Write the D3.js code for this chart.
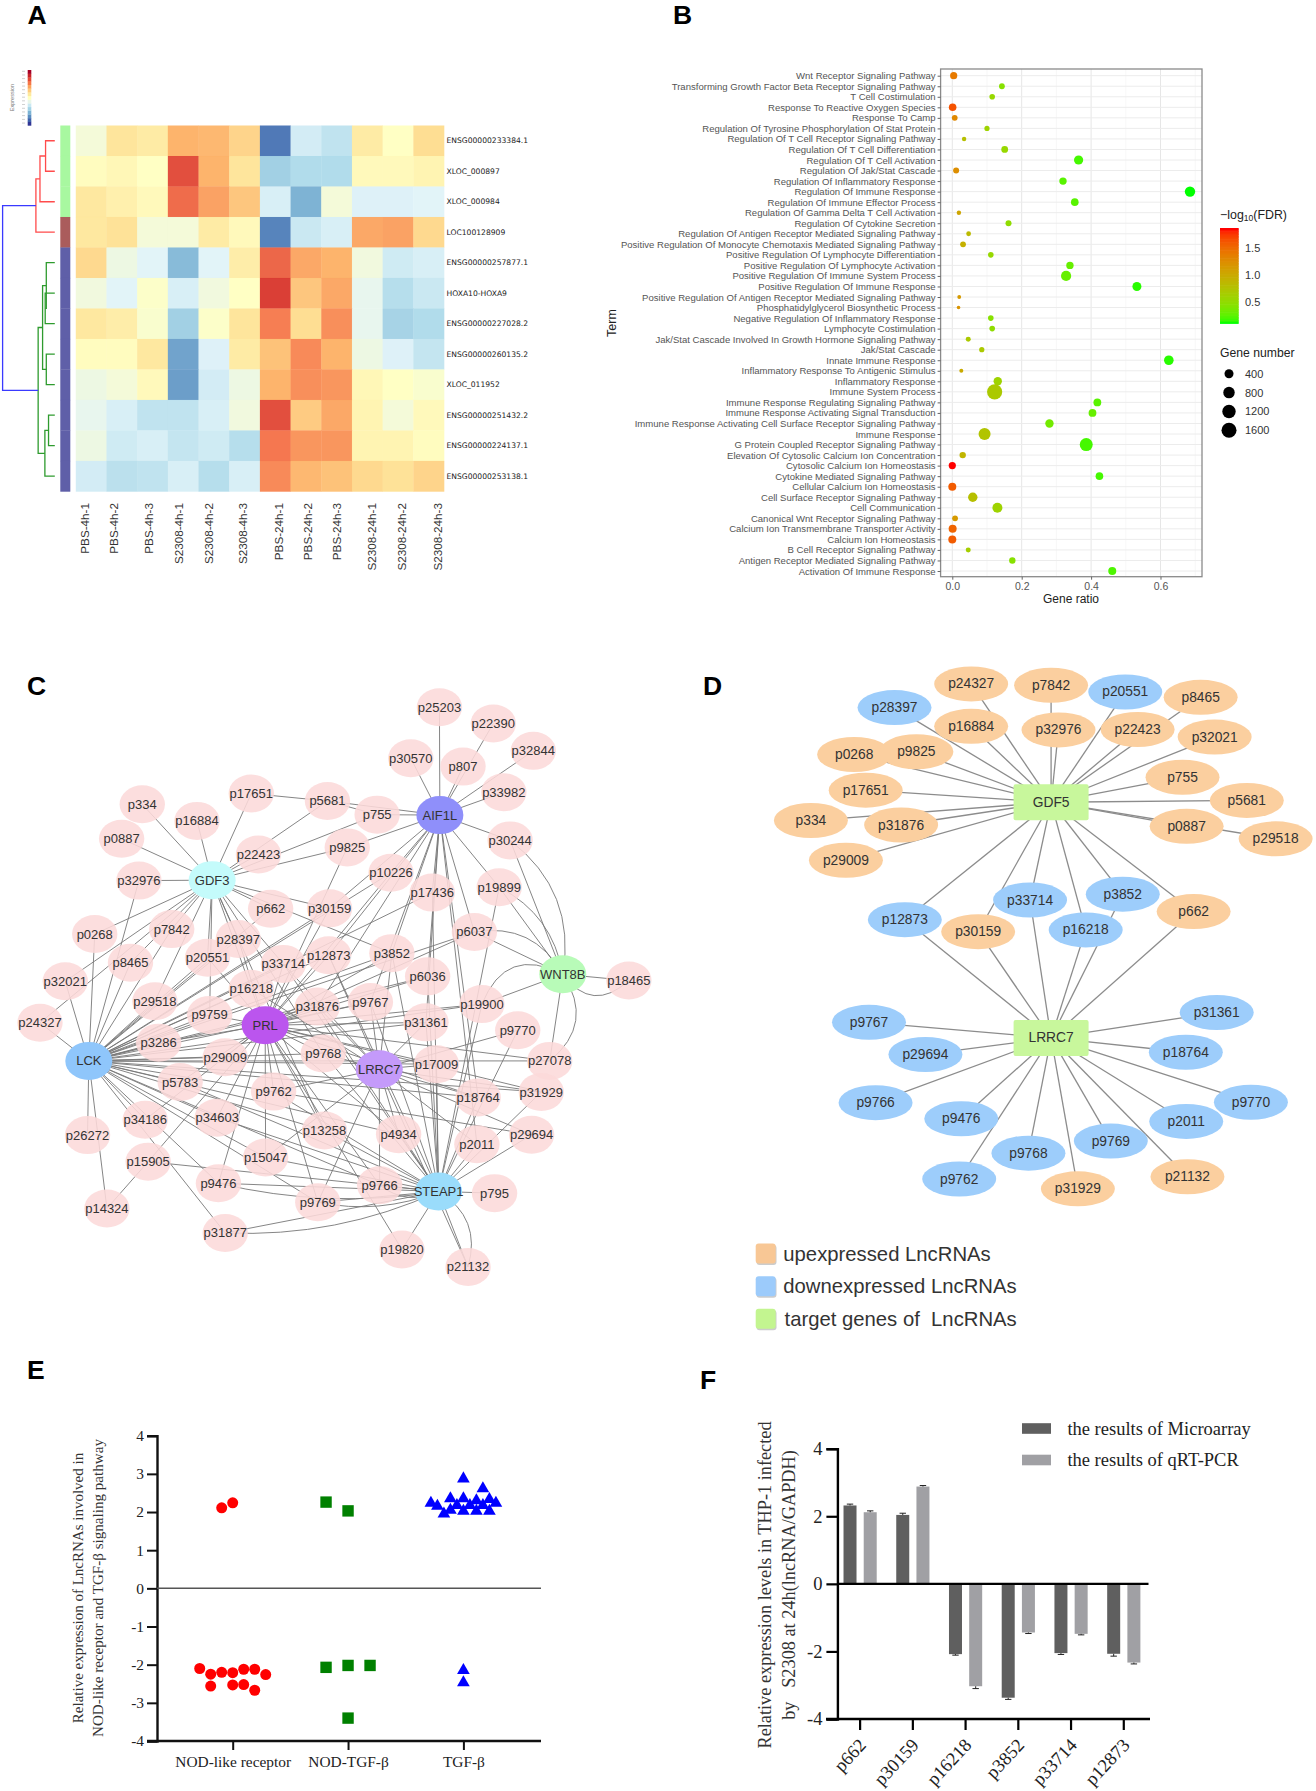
<!DOCTYPE html>
<html><head><meta charset="utf-8">
<script src="https://cdn.jsdelivr.net/npm/d3@7/dist/d3.min.js"></script>
<style>html,body{margin:0;padding:0;background:#fff}svg{display:block}text{white-space:pre}</style>
</head><body><svg id="c" width="1316" height="1791"></svg>
<script>
// ---------- Panel A data ----------
const heatRows=["ENSG00000233384.1","XLOC_000897","XLOC_000984","LOC100128909","ENSG00000257877.1","HOXA10-HOXA9","ENSG00000227028.2","ENSG00000260135.2","XLOC_011952","ENSG00000251432.2","ENSG00000224137.1","ENSG00000253138.1"];
const heatCols=["PBS-4h-1","PBS-4h-2","PBS-4h-3","S2308-4h-1","S2308-4h-2","S2308-4h-3","PBS-24h-1","PBS-24h-2","PBS-24h-3","S2308-24h-1","S2308-24h-2","S2308-24h-3"];
const heatValues=[
[.46,.59,.57,.70,.69,.63,.09,.37,.33,.57,.50,.61],
[.51,.53,.50,.87,.70,.59,.27,.30,.30,.52,.52,.54],
[.58,.55,.52,.82,.73,.66,.38,.20,.46,.39,.39,.40],
[.58,.60,.46,.46,.57,.52,.11,.35,.38,.72,.73,.62],
[.62,.44,.40,.22,.40,.56,.83,.72,.70,.45,.36,.38],
[.45,.40,.49,.38,.45,.50,.90,.66,.72,.42,.31,.35],
[.58,.56,.48,.27,.49,.59,.79,.61,.76,.42,.28,.30],
[.51,.51,.58,.17,.39,.57,.67,.77,.70,.44,.39,.34],
[.44,.46,.52,.16,.37,.44,.70,.76,.75,.53,.50,.48],
[.42,.38,.33,.33,.38,.45,.87,.65,.72,.54,.46,.52],
[.44,.36,.38,.34,.36,.31,.80,.75,.75,.54,.54,.51],
[.37,.32,.33,.38,.31,.38,.77,.69,.67,.62,.60,.63]];
const heatGroups=[0,0,0,1,2,2,2,2,2,2,2,2];
const dendro={h:1,g:"root",c:[
 {h:.362,g:"a",c:[{h:.284,g:"a",c:[{h:.177,g:"a",c:[0,1]},2]},3]},
 {h:.319,g:"b",c:[
  {h:.234,g:"b",c:[{h:.163,g:"b",c:[4,{h:.184,g:"b",c:[5,6]}]},{h:.163,g:"b",c:[7,8]}]},
  {h:.19,g:"b",c:[{h:.12,g:"b",c:[9,10]},11]}]}]};
// ---------- Panel B data ----------
const goTerms=["Wnt Receptor Signaling Pathway","Transforming Growth Factor Beta Receptor Signaling Pathway","T Cell Costimulation","Response To Reactive Oxygen Species","Response To Camp","Regulation Of Tyrosine Phosphorylation Of Stat Protein","Regulation Of T Cell Receptor Signaling Pathway","Regulation Of T Cell Differentiation","Regulation Of T Cell Activation","Regulation Of Jak/Stat Cascade","Regulation Of Inflammatory Response","Regulation Of Immune Response","Regulation Of Immune Effector Process","Regulation Of Gamma Delta T Cell Activation","Regulation Of Cytokine Secretion","Regulation Of Antigen Receptor Mediated Signaling Pathway","Positive Regulation Of Monocyte Chemotaxis Mediated Signaling Pathway","Positive Regulation Of Lymphocyte Differentiation","Positive Regulation Of Lymphocyte Activation","Positive Regulation Of Immune System Process","Positive Regulation Of Immune Response","Positive Regulation Of Antigen Receptor Mediated Signaling Pathway","Phosphatidylglycerol Biosynthetic Process","Negative Regulation Of Inflammatory Response","Lymphocyte Costimulation","Jak/Stat Cascade Involved In Growth Hormone Signaling Pathway","Jak/Stat Cascade","Innate Immune Response","Inflammatory Response To Antigenic Stimulus","Inflammatory Response","Immune System Process","Immune Response Regulating Signaling Pathway","Immune Response Activating Signal Transduction","Immune Response Activating Cell Surface Receptor Signaling Pathway","Immune Response","G Protein Coupled Receptor Signaling Pathway","Elevation Of Cytosolic Calcium Ion Concentration","Cytosolic Calcium Ion Homeostasis","Cytokine Mediated Signaling Pathway","Cellular Calcium Ion Homeostasis","Cell Surface Receptor Signaling Pathway","Cell Communication","Canonical Wnt Receptor Signaling Pathway","Calcium Ion Transmembrane Transporter Activity","Calcium Ion Homeostasis","B Cell Receptor Signaling Pathway","Antigen Receptor Mediated Signaling Pathway","Activation Of Immune Response"];
const goRatio=[.004,.143,.115,.001,.007,.10,.034,.151,.364,.011,.319,.685,.353,.019,.162,.047,.031,.111,.339,.328,.532,.020,.018,.111,.115,.046,.085,.624,.026,.131,.122,.418,.404,.28,.093,.386,.03,0,.424,0,.059,.13,.008,.001,0,.046,.173,.461];
const goGenes=[196,87,75,235,87,54,22,160,427,100,215,608,235,22,100,36,87,75,215,576,400,7,4,75,75,44,54,484,11,324,1650,256,256,324,900,1111,128,196,235,278,455,544,87,278,278,44,128,278];
const goFdr=[1.4,.45,.55,1.65,1.3,.6,.8,.55,.2,1.25,.25,.12,.25,1.05,.5,.85,.95,.55,.3,.3,.15,1.15,1.2,.45,.5,.7,.7,.15,1.0,.6,.7,.25,.3,.35,.75,.2,.9,1.86,.2,1.6,.8,.6,1.15,1.55,1.6,.65,.45,.22];
const goRatioTicks=[0,.2,.4,.6], goSizeTicks=[400,800,1200,1600], goFdrTicks=[.5,1,1.5];
// ---------- Panel C data (network layout units) ----------
const cHubs=[["AIF1L",1045,350,"#8f8ffa"],["GDF3",504,507,"#c4fbfb"],["LCK",211,943,"#8fc6fb"],["PRL",630,857,"#bb55ee"],["LRRC7",901,963,"#c49afa"],["STEAP1",1042,1258,"#9adcfb"],["WNT8B",1337,734,"#b8fbb8"]];
const cLeaves=[["p25203",1044,90],["p22390",1172,129],["p32844",1267,195],["p30570",976,213],["p807",1100,233],["p33982",1197,295],["p17651",597,298],["p5681",778,316],["p755",896,349],["p334",338,324],["p16884",468,364],["p0887",289,407],["p22423",614,445],["p9825",825,428],["p30244",1212,411],["p32976",330,508],["p10226",929,489],["p19899",1186,524],["p17436",1027,537],["p662",643,576],["p30159",783,575],["p0268",225,637],["p7842",408,625],["p28397",566,649],["p6037",1127,632],["p20551",493,694],["p33714",673,709],["p12873",781,688],["p3852",931,683],["p8465",310,706],["p32021",155,751],["p6036",1016,739],["p16218",597,769],["p18465",1494,749],["p29518",368,799],["p19900",1145,806],["p31876",754,812],["p9767",880,801],["p9759",498,832],["p24327",95,851],["p31361",1012,850],["p9770",1230,869],["p3286",377,899],["p9768",768,925],["p29009",535,934],["p17009",1037,951],["p27078",1306,943],["p5783",428,994],["p9762",650,1017],["p18764",1136,1031],["p31929",1286,1018],["p34186",345,1085],["p34603",516,1080],["p13258",771,1111],["p4934",947,1120],["p29694",1263,1121],["p26272",208,1122],["p2011",1133,1144],["p15047",631,1176],["p15905",352,1186],["p9476",519,1238],["p9766",902,1243],["p795",1175,1262],["p9769",755,1284],["p14324",254,1299],["p31877",535,1358],["p19820",955,1398],["p21132",1112,1440]];
const cLinks={
 AIF1L:"p25203 p22390 p32844 p30570 p807 p33982 p5681 p755 p30244 p9825 p10226 p17436 p19899 p6037 p6036 p12873 p30159 p3852 p31876 p31361 p18764 p9767 p2011".split(" "),
 GDF3:"p334 p16884 p0887 p17651 p32976 p5681 p755 p22423 p9825 p662 p30159 p0268 p7842 p28397 p20551 p3852 p24327 p32021 p29518 p16218 p33714 p9759 p8465 p9768 p13258".split(" "),
 LCK:"p24327 p32021 p0268 p32976 p8465 p7842 p29518 p3286 p29009 p5783 p34186 p34603 p26272 p14324 p31877 p9476 p20551 p28397 p16218 p33714 p17436 p10226 p30159 p6037 p3852 p12873 p31876 p9767 p6036 p19900 p31361 p27078 p9768 p17009 p18764 p31929 p4934 p13258 p9766 p15047 p662 p9759 p9769 p29694".split(" "),
 PRL:"p9759 p3286 p29009 p5783 p34186 p34603 p9762 p15047 p9476 p15905 p20551 p28397 p16218 p33714 p12873 p30159 p10226 p9825 p31876 p9767 p6036 p19900 p31361 p3852 p6037 p9768 p17009 p27078 p13258 p4934 p9769 p9766 p19820 p18764 p31929".split(" "),
 LRRC7:"p31876 p9767 p31361 p17009 p9770 p9768 p29694 p18764 p2011 p31929 p4934 p9766 p9769 p9762 p3852 p12873 p16218 p33714 p15047 p21132".split(" "),
 STEAP1:"p795 p21132 p19820 p31877 p9769 p9766 p9476 p15905 p15047 p34603 p13258 p4934 p2011 p29694 p31929 p18764 p9770 p19900 p17009 p31361 p6036 p9767 p17436 p19899 p3852 p9768 p5783 p12873 p9762 p31876 p33714".split(" "),
 WNT8B:"p18465 p30244 p19899 p6037 p19900 p27078".split(" ")};
const cCurves=[["p30244","WNT8B",.3],["p19899","WNT8B",.25],["p6037","WNT8B",.35],["p19900","WNT8B",.55],["WNT8B","p18465",-.55],["p27078","WNT8B",-.45],["p31877","STEAP1",-.12],["p9476","STEAP1",-.1],["p9769","STEAP1",-.15],["p9766","STEAP1",-.3],["STEAP1","p21132",.38]];
const cExtra=[["p14324","p15905"],["p17651","p5681"],["p5681","p755"]];
// ---------- Panel D data (network layout units) ----------
const dTargets=[["GDF5",925,341],["LRRC7",925,869]];
const dUp=[["p24327",731,76],["p7842",925,79],["p8465",1288,106],["p16884",731,171],["p32976",943,179],["p22423",1135,178],["p32021",1322,195],["p0268",447,234],["p9825",598,228],["p755",1244,285],["p17651",475,314],["p5681",1400,337],["p334",342,382],["p31876",561,392],["p0887",1254,395],["p29518",1470,423],["p29009",427,471],["p30159",748,631],["p662",1271,586],["p21132",1256,1180],["p31929",990,1207]];
const dDown=[["p20551",1105,94],["p28397",545,129],["p12873",570,604],["p33714",874,560],["p3852",1099,547],["p16218",1009,627],["p31361",1327,812],["p9767",483,834],["p18764",1252,901],["p29694",620,906],["p9770",1410,1013],["p9766",499,1014],["p2011",1253,1056],["p9476",707,1050],["p9769",1070,1100],["p9768",870,1127],["p9762",702,1185]];
const dLinks={GDF5:"p24327 p7842 p20551 p8465 p28397 p16884 p32976 p22423 p32021 p0268 p9825 p755 p17651 p5681 p334 p31876 p0887 p29518 p29009 p12873 p30159 p33714 p16218 p3852 p662".split(" "),
 LRRC7:"p12873 p30159 p33714 p16218 p3852 p662 p31361 p9767 p18764 p29694 p9770 p9766 p2011 p9476 p9769 p9768 p9762 p21132 p31929".split(" ")};
const dLegend=["upexpressed LncRNAs","downexpressed LncRNAs","target genes of  LncRNAs"];
// ---------- Panel E data ----------
const eCats=["NOD-like receptor","NOD-TGF-β","TGF-β"];
const eTicks=[-4,-3,-2,-1,0,1,2,3,4];
const eRedSlots=[-1,0,-3,-2,-1,0,1,2,3,-2,0,1,2];
const eRedValues=[2.11,2.24,-2.1,-2.25,-2.2,-2.21,-2.12,-2.12,-2.26,-2.56,-2.53,-2.52,-2.67];
const eGreenSlots=[-2,0,-2,0,2,0];
const eGreenValues=[2.26,2.03,-2.07,-2.02,-2.02,-3.4];
const eBlueSlots=[0,3,-2,0,2,4,-5,5,-4,-1,1,3,-2,0,2,4,-3,0,0];
const eBlueValues=[2.92,2.66,2.4,2.4,2.35,2.38,2.28,2.28,2.2,2.22,2.22,2.22,2.1,2.07,2.07,2.07,2.0,-2.1,-2.42];
// ---------- Panel F data ----------
const fCats=["p662","p30159","p16218","p3852","p33714","p12873"];
const fSeries=["the results of Microarray","the results of qRT-PCR"];
const fMicro=[2.32,2.04,-2.08,-3.37,-2.05,-2.07];
const fPcr=[2.12,2.88,-3.03,-1.44,-1.48,-2.33];
const fMicroErr=[.04,.05,.03,.05,.04,.07];
const fPcrErr=[.04,.03,.07,.03,.03,.04];
const fTicks=[-4,-2,0,2,4];

// =============== drawing ===============
const svg=d3.select("#c");
const SANS="'Liberation Sans',Arial,sans-serif", SERIF="'Liberation Serif','Times New Roman',serif";
function panelLabel(t,x,y){svg.append("text").attr("x",x).attr("y",y).attr("font-family",SANS).attr("font-weight","bold").attr("font-size",26.5).attr("dominant-baseline","central").text(t);}
[["A",27.5,15],["B",673,15],["C",27,686],["D",703,686],["E",27,1370],["F",700,1380]].forEach(d=>panelLabel(...d));

// ---- Panel A
(function(){
 const g=svg.append("g");
 const x=d3.scaleBand().domain(heatCols).range([75.8,444]);
 const y=d3.scaleBand().domain(heatRows).range([125.5,491.4]);
 const color=d3.scaleLinear().domain([0,.1,.2,.3,.4,.5,.6,.7,.8,.9,1]).range(["#313695","#4575b4","#74add1","#abd9e9","#e0f3f8","#ffffbf","#fee090","#fdae61","#f46d43","#d73027","#a50026"]);
 heatValues.forEach((row,i)=>row.forEach((v,j)=>{
  g.append("rect").attr("x",x(heatCols[j])).attr("y",y(heatRows[i])).attr("width",x.bandwidth()+.3).attr("height",y.bandwidth()+.3).attr("fill",color(v)).attr("fill-opacity",.93);
 }));
 heatRows.forEach(r=>g.append("text").attr("x",446.5).attr("y",y(r)+y.bandwidth()/2).attr("dominant-baseline","central").attr("font-family","'DejaVu Sans'").attr("font-size",7.6).attr("fill","#222").text(r));
 const nudge=[-6.8,-8.3,-3.6,-4.6,-5.7,-1.7,3.2,1.8,0,4.3,3.2,8.8];
 heatCols.forEach((c,j)=>{
  const cx=x(c)+x.bandwidth()/2+nudge[j];
  g.append("text").attr("transform",`translate(${cx},503) rotate(-90)`).attr("text-anchor","end").attr("dominant-baseline","central").attr("font-family",SANS).attr("font-size",11.7).attr("fill","#333").text(c);
 });
 const groupColor=["#a8f8a0","#aa5c5c","#5f5fa8"];
 heatRows.forEach((r,i)=>g.append("rect").attr("x",60.3).attr("width",10).attr("y",y(r)).attr("height",y.bandwidth()+.3).attr("fill",groupColor[heatGroups[i]]));
 const depth=d3.scaleLinear().domain([0,1]).range([54.8,2.6]);
 const dColor={a:"#ff4b4b",b:"#2e9b2e",root:"#3a3aff"};
 function rowY(k){return y(heatRows[k])+y.bandwidth()/2;}
 function walk(n){
  if(typeof n==="number")return{x:depth(0),y:rowY(n)};
  const kids=n.c.map(walk), px=depth(n.h), py=d3.mean(kids,k=>k.y);
  const p=d3.path();
  p.moveTo(kids[0].x,kids[0].y);p.lineTo(px,kids[0].y);p.lineTo(px,kids[1].y);p.lineTo(kids[1].x,kids[1].y);
  g.append("path").attr("d",p.toString()).attr("fill","none").attr("stroke",dColor[n.g]).attr("stroke-width",1.3);
  return{x:px,y:py};
 }
 walk(dendro);
 const key=d3.range(0,1.0001,1/14);
 const ky=d3.scaleBand().domain(key).range([125.5,70]);
 key.forEach(k=>{g.append("rect").attr("x",27.7).attr("width",3.6).attr("y",ky(k)).attr("height",ky.bandwidth()+.2).attr("fill",color(k));
  g.append("rect").attr("x",22).attr("width",3).attr("y",ky(k)+.8).attr("height",.9).attr("fill","#ccc");});
 g.append("text").attr("transform","translate(12,97.6) rotate(-90)").attr("text-anchor","middle").attr("dominant-baseline","central").attr("font-family",SANS).attr("font-size",5.5).attr("fill","#777").text("Expression");
})();

// ---- Panel B
(function(){
 const g=svg.append("g");
 const L=940.6,R=1202,T=69,B=576.7;
 const x=d3.scaleLinear().domain([-.0337,.7196]).range([L,R]);
 const y=d3.scalePoint().domain(goTerms).range([75.7,571]);
 const r=d3.scaleSqrt().domain([0,1600]).range([1.5,7.5]);
 const col=d3.scaleLinear().domain([.122,1.857]).range(["#00ff00","#ff0000"]).interpolate(d3.interpolateLab);
 goRatioTicks.forEach(t=>g.append("line").attr("x1",x(t)).attr("x2",x(t)).attr("y1",T).attr("y2",B).attr("stroke","#e6e6e6"));
 [.1,.3,.5,.7].forEach(t=>g.append("line").attr("x1",x(t)).attr("x2",x(t)).attr("y1",T).attr("y2",B).attr("stroke","#f1f1f1").attr("stroke-width",.6));
 goTerms.forEach(t=>g.append("line").attr("x1",L).attr("x2",R).attr("y1",y(t)).attr("y2",y(t)).attr("stroke","#ececec"));
 goTerms.forEach((t,i)=>g.append("circle").attr("cx",x(goRatio[i])).attr("cy",y(t)).attr("r",r(goGenes[i])).attr("fill",col(goFdr[i])));
 g.append("rect").attr("x",L).attr("y",T).attr("width",R-L).attr("height",B-T).attr("fill","none").attr("stroke","#8a8a8a").attr("stroke-width",1.3);
 const ay=g.append("g").attr("transform",`translate(${L},0)`).call(d3.axisLeft(y).tickSize(3).tickPadding(2));
 ay.select(".domain").remove();ay.selectAll("line").attr("stroke","#666");
 ay.selectAll("text").attr("font-family",SANS).attr("font-size",9.55).attr("fill","#555");
 const ax=g.append("g").attr("transform",`translate(0,${B})`).call(d3.axisBottom(x).tickValues(goRatioTicks).tickFormat(d3.format(".1f")).tickSize(3).tickPadding(3));
 ax.select(".domain").remove();ax.selectAll("line").attr("stroke","#666");
 ax.selectAll("text").attr("font-family",SANS).attr("font-size",10.5).attr("fill","#555");
 g.append("text").attr("x",1071).attr("y",599).attr("text-anchor","middle").attr("dominant-baseline","central").attr("font-family",SANS).attr("font-size",12).attr("fill","#222").text("Gene ratio");
 g.append("text").attr("transform","translate(612,323) rotate(-90)").attr("text-anchor","middle").attr("dominant-baseline","central").attr("font-family",SANS).attr("font-size",12.5).attr("fill","#222").text("Term");
 const ly=d3.scaleLinear().domain([.122,1.857]).range([322.7,229]);
 d3.range(0,60).forEach(i=>{const v=.122+(1.857-.122)*i/59;
  g.append("rect").attr("x",1220).attr("width",18.7).attr("y",ly(v)-1).attr("height",2.2).attr("fill",col(v));});
 goFdrTicks.forEach(t=>g.append("text").attr("x",1245).attr("y",ly(t)).attr("dominant-baseline","central").attr("font-family",SANS).attr("font-size",11).attr("fill","#333").text(t.toFixed(1)));
 const tt=g.append("text").attr("x",1220).attr("y",215).attr("dominant-baseline","central").attr("font-family",SANS).attr("font-size",12.4).attr("fill","#222");
 tt.append("tspan").text("\u2212log");tt.append("tspan").attr("font-size",8.5).attr("dy",3).text("10");tt.append("tspan").attr("dy",-3).text("(FDR)");
 g.append("text").attr("x",1220).attr("y",353).attr("dominant-baseline","central").attr("font-family",SANS).attr("font-size",12.2).attr("fill","#222").text("Gene number");
 const ls=d3.scalePoint().domain(goSizeTicks).range([373.7,430.3]);
 goSizeTicks.forEach(t=>{g.append("circle").attr("cx",1229).attr("cy",ls(t)).attr("r",r(t)).attr("fill","#000");
  g.append("text").attr("x",1245).attr("y",ls(t)).attr("dominant-baseline","central").attr("font-family",SANS).attr("font-size",11).attr("fill","#333").text(t);});
})();

// ---- Panel C
(function(){
 const g=svg.append("g");
 const x=d3.scaleLinear().domain([0,1568]).range([0,660]);
 const y=d3.scaleLinear().domain([0,1568]).range([670,1320]);
 const pos={};
 cHubs.concat(cLeaves).forEach(d=>pos[d[0]]={x:x(d[1]),y:y(d[2])});
 const edges=[];
 Object.keys(cLinks).forEach(h=>cLinks[h].forEach(p=>edges.push([h,p,0])));
 cExtra.forEach(e=>edges.push([e[0],e[1],0]));
 cCurves.forEach(e=>edges.push(e));
 edges.forEach(([a,b,bend])=>{
  const A=pos[a],B=pos[b];const p=d3.path();p.moveTo(A.x,A.y);
  if(bend){const dx=B.x-A.x,dy=B.y-A.y;p.quadraticCurveTo((A.x+B.x)/2+dy*bend,(A.y+B.y)/2-dx*bend,B.x,B.y);}
  else p.lineTo(B.x,B.y);
  g.append("path").attr("d",p.toString()).attr("fill","none").attr("stroke","#777").attr("stroke-width",.9);
 });
 cLeaves.forEach(d=>{g.append("ellipse").attr("cx",pos[d[0]].x).attr("cy",pos[d[0]].y).attr("rx",22.7).attr("ry",19).attr("fill","#fcd9d9").attr("fill-opacity",.88);});
 cHubs.forEach(d=>{g.append("ellipse").attr("cx",pos[d[0]].x).attr("cy",pos[d[0]].y).attr("rx",23.5).attr("ry",19).attr("fill",d[3]);});
 cLeaves.concat(cHubs).forEach(d=>g.append("text").attr("x",pos[d[0]].x).attr("y",pos[d[0]].y).attr("text-anchor","middle").attr("dominant-baseline","central").attr("font-family",SANS).attr("font-size",13).attr("fill","#333").text(d[0]));
})();

// ---- Panel D
(function(){
 const g=svg.append("g");
 const x=d3.scaleLinear().domain([0,1568]).range([670,1316]);
 const y=d3.scaleLinear().domain([0,1568]).range([650,1350]);
 const pos={};
 dTargets.concat(dUp,dDown).forEach(d=>pos[d[0]]={x:x(d[1]),y:y(d[2])});
 Object.keys(dLinks).forEach(h=>dLinks[h].forEach(p=>g.append("line").attr("x1",pos[h].x).attr("y1",pos[h].y).attr("x2",pos[p].x).attr("y2",pos[p].y).attr("stroke","#8c8c8c").attr("stroke-width",1.3)));
 const oc="#fbcf9f",bc="#9dcdfb",gc="#c8f79c";
 [[dUp,oc],[dDown,bc]].forEach(([arr,c])=>arr.forEach(d=>g.append("ellipse").attr("cx",pos[d[0]].x).attr("cy",pos[d[0]].y).attr("rx",37).attr("ry",17.5).attr("fill",c)));
 dTargets.forEach(d=>g.append("rect").attr("x",pos[d[0]].x-37.5).attr("y",pos[d[0]].y-18).attr("width",75).attr("height",36).attr("rx",2).attr("fill",gc));
 dTargets.concat(dUp,dDown).forEach(d=>g.append("text").attr("x",pos[d[0]].x).attr("y",pos[d[0]].y).attr("text-anchor","middle").attr("dominant-baseline","central").attr("font-family",SANS).attr("font-size",13.8).attr("fill","#333").text(d[0]));
 const ly=d3.scalePoint().domain(dLegend).range([1253.6,1318.7]);
 const lc=["#f8c795","#9ccbfb","#c3f590"];
 dLegend.forEach((t,i)=>{
  g.append("rect").attr("x",756.5).attr("y",ly(t)-8.5).attr("width",20).attr("height",20).attr("rx",3).attr("fill","#ccc");
  g.append("rect").attr("x",755.7).attr("y",ly(t)-10).attr("width",20).attr("height",20).attr("rx",3).attr("fill",lc[i]);
  g.append("text").attr("x",i==2?784.5:783.3).attr("y",ly(t)).attr("dominant-baseline","central").attr("font-family",SANS).attr("font-size",20.3).attr("fill","#333").text(t);
 });
})();

// ---- Panel E
(function(){
 const g=svg.append("g");
 const y=d3.scaleLinear().domain([-4,4]).range([1741,1435.7]);
 const x=d3.scalePoint().domain(eCats).range([232.7,463.4]);
 const X0=157,X1=541;
 const ax=g.append("g").attr("transform",`translate(${X0},0)`).call(d3.axisLeft(y).tickValues(eTicks).tickSize(10).tickPadding(3).tickFormat(d3.format("d")));
 const bx=g.append("g").attr("transform",`translate(0,${y(-4)})`).call(d3.axisBottom(x).tickSize(9).tickPadding(6));
 [ax,bx].forEach(a=>{a.select(".domain").attr("stroke","#111").attr("stroke-width",2.4);a.selectAll("line").attr("stroke","#111").attr("stroke-width",2);a.selectAll("text").attr("font-family",SERIF).attr("font-size",15.4).attr("fill","#222");});
 ax.selectAll("text").text(d=>d<0?"-"+Math.abs(d):d);
 bx.select(".domain").attr("d",`M${X0-10},0H${X1}`);
 g.append("line").attr("x1",X0).attr("x2",X1).attr("y1",y(0)).attr("y2",y(0)).attr("stroke","#555").attr("stroke-width",1.5);
 const step={c:11,s:11,t:6.5};
 eRedValues.forEach((v,i)=>g.append("circle").attr("cx",x(eCats[0])+eRedSlots[i]*step.c).attr("cy",y(v)).attr("r",5.5).attr("fill","#ff0000"));
 const sq=d3.symbol().type(d3.symbolSquare).size(130), tri=d3.symbol().type(d3.symbolTriangle).size(70);
 eGreenValues.forEach((v,i)=>g.append("path").attr("d",sq()).attr("transform",`translate(${x(eCats[1])+eGreenSlots[i]*step.s},${y(v)})`).attr("fill","#008000"));
 eBlueValues.forEach((v,i)=>g.append("path").attr("d",tri()).attr("transform",`translate(${x(eCats[2])+eBlueSlots[i]*step.t},${y(v)+1.8})`).attr("fill","#0000ff"));
 g.append("text").attr("transform","translate(77.7,1588) rotate(-90)").attr("text-anchor","middle").attr("dominant-baseline","central").attr("font-family",SERIF).attr("font-size",15).attr("fill","#333").text("Relative expression of LncRNAs involved in");
 g.append("text").attr("transform","translate(97.6,1588) rotate(-90)").attr("text-anchor","middle").attr("dominant-baseline","central").attr("font-family",SERIF).attr("font-size",15.1).attr("fill","#333").text("NOD-like receptor and TGF-β signaling pathway");
})();

// ---- Panel F
(function(){
 const g=svg.append("g");
 const y=d3.scaleLinear().domain([-4,4]).range([1719,1448.7]);
 const x=d3.scaleBand().domain(fCats).range([833.75,1150.15]);
 const off=d3.scalePoint().domain(fSeries).range([-10.1,10.1]);
 const colors=["#5f5f5f","#a0a0a4"];
 const vals=[fMicro,fPcr],errs=[fMicroErr,fPcrErr];
 fSeries.forEach((s,k)=>fCats.forEach((c,i)=>{
  const v=vals[k][i],cx=x(c)+x.bandwidth()/2+off(s),e=errs[k][i],ye=y(v+Math.sign(v)*e);
  g.append("rect").attr("x",cx-6.5).attr("width",13).attr("y",Math.min(y(0),y(v))).attr("height",Math.abs(y(v)-y(0))).attr("fill",colors[k]);
  g.append("line").attr("x1",cx).attr("x2",cx).attr("y1",y(v)).attr("y2",ye).attr("stroke","#222");
  g.append("line").attr("x1",cx-3.2).attr("x2",cx+3.2).attr("y1",ye).attr("y2",ye).attr("stroke","#222").attr("stroke-width",1);
 }));
 const ax=g.append("g").attr("transform","translate(837.4,0)").call(d3.axisLeft(y).tickValues(fTicks).tickSize(11).tickPadding(4).tickFormat(d=>d<0?"-"+Math.abs(d):d));
 const bx=g.append("g").attr("transform",`translate(0,${y(-4)})`).call(d3.axisBottom(x).tickSize(11).tickPadding(4));
 [ax,bx].forEach(a=>{a.select(".domain").attr("stroke","#000").attr("stroke-width",2.4);a.selectAll("line").attr("stroke","#000").attr("stroke-width",2.2);a.selectAll("text").attr("font-family",SERIF).attr("font-size",18.5).attr("fill","#222");});
 bx.select(".domain").attr("d","M826,0H1150");
 bx.selectAll("text").attr("text-anchor","end").attr("dy",0).attr("y",0).attr("dominant-baseline","auto").attr("transform","translate(7,27) rotate(-47)");
 g.append("line").attr("x1",837.4).attr("x2",1148.5).attr("y1",y(0)).attr("y2",y(0)).attr("stroke","#000").attr("stroke-width",2.2);
 g.append("text").attr("transform","translate(765,1585) rotate(-90)").attr("text-anchor","middle").attr("dominant-baseline","central").attr("font-family",SERIF).attr("font-size",18.3).attr("fill","#333").text("Relative expression levels in THP-1 infected");
 g.append("text").attr("transform","translate(788.7,1585) rotate(-90)").attr("text-anchor","middle").attr("dominant-baseline","central").attr("font-family",SERIF).attr("font-size",18.3).attr("fill","#333").text("by   S2308 at 24h(lncRNA/GAPDH)");
 const ly=d3.scalePoint().domain(fSeries).range([1428.5,1460]);
 fSeries.forEach((s,k)=>{
  g.append("rect").attr("x",1022).attr("y",ly(s)-5.3).attr("width",29).attr("height",10.6).attr("fill",colors[k]);
  g.append("text").attr("x",1067.4).attr("y",ly(s)).attr("dominant-baseline","central").attr("font-family",SERIF).attr("font-size",18.5).attr("fill","#222").text(s);
 });
})();
</script></body></html>
